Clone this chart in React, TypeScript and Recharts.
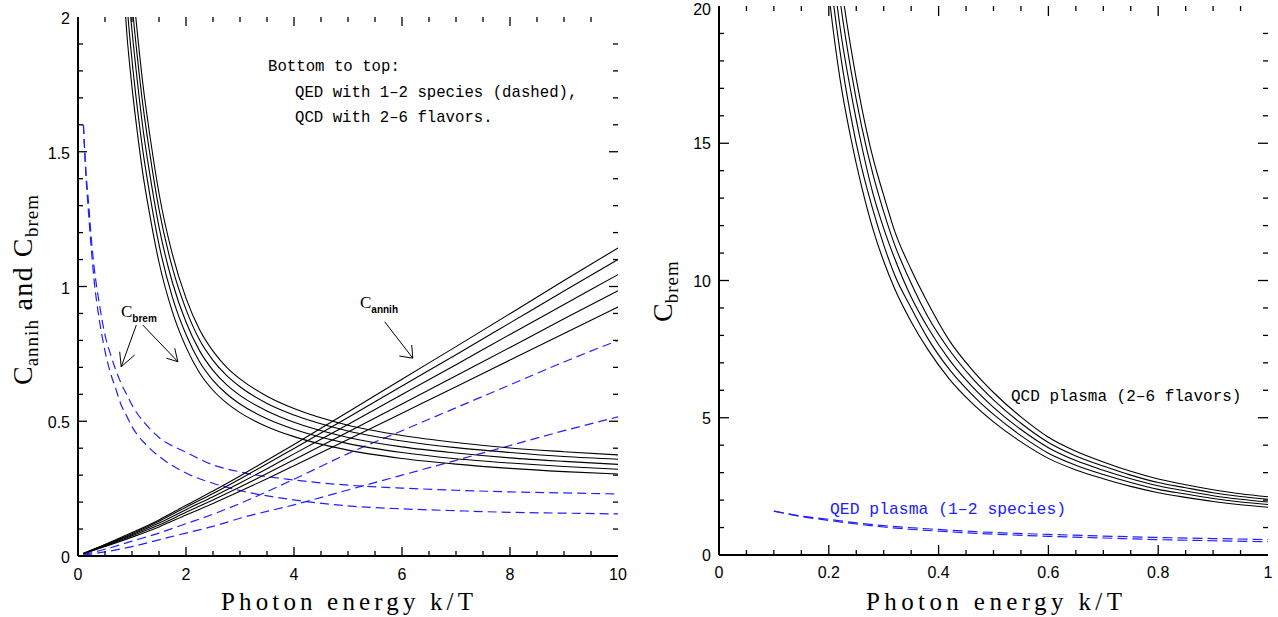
import React from "react";
import { LineChart, Line, XAxis, YAxis, ReferenceLine } from "recharts";

// ---- left panel: C_annih (QCD, Nf = 2..6) ----
const annihX = [0.1, 0.5, 1, 1.5, 2, 2.5, 3, 3.5, 4, 5, 6, 7, 8, 9, 10];
const annihNf2 = [0.008, 0.035, 0.07, 0.108, 0.152, 0.195, 0.24, 0.287, 0.335, 0.432, 0.53, 0.628, 0.727, 0.826, 0.924];
const annihNf3 = [0.0085, 0.037, 0.075, 0.115, 0.162, 0.208, 0.256, 0.306, 0.357, 0.46, 0.564, 0.669, 0.774, 0.88, 0.984];
const annihNf4 = [0.009, 0.04, 0.079, 0.122, 0.172, 0.22, 0.271, 0.324, 0.379, 0.488, 0.599, 0.71, 0.822, 0.933, 1.044];
const annihNf5 = [0.0095, 0.042, 0.083, 0.129, 0.181, 0.232, 0.286, 0.342, 0.399, 0.514, 0.631, 0.747, 0.865, 0.983, 1.1];
const annihNf6 = [0.01, 0.043, 0.087, 0.134, 0.188, 0.241, 0.297, 0.355, 0.414, 0.534, 0.656, 0.777, 0.899, 1.022, 1.143];

// QED annihilation, 1 and 2 species
const qedAnnihX = [0.1, 0.5, 1, 1.5, 2, 2.5, 3, 4, 5, 6, 7, 8, 9, 10];
const qedAnnih2 = [0.005, 0.025, 0.055, 0.085, 0.12, 0.155, 0.195, 0.285, 0.38, 0.465, 0.55, 0.635, 0.72, 0.8];
const qedAnnih1 = [0.003, 0.015, 0.035, 0.06, 0.085, 0.11, 0.14, 0.19, 0.245, 0.3, 0.355, 0.41, 0.465, 0.516];

// C_brem (QCD, Nf = 2..6), left panel range
const bremX = [0.8, 0.85, 0.9, 1, 1.1, 1.2, 1.33, 1.5, 1.75, 2, 2.25, 2.5, 2.75, 3, 3.5, 4, 5, 6, 7, 8, 9, 10];
const bremNf2 = [2.27, 2.1, 1.95, 1.74, 1.57, 1.42, 1.265, 1.09, 0.905, 0.775, 0.68, 0.615, 0.568, 0.532, 0.48, 0.443, 0.393, 0.362, 0.341, 0.325, 0.313, 0.304];
const bremNf3 = [2.41, 2.23, 2.07, 1.84, 1.66, 1.505, 1.341, 1.155, 0.959, 0.822, 0.721, 0.652, 0.602, 0.564, 0.509, 0.47, 0.417, 0.384, 0.361, 0.345, 0.332, 0.322];
const bremNf4 = [2.54, 2.35, 2.18, 1.95, 1.76, 1.59, 1.417, 1.221, 1.014, 0.868, 0.762, 0.689, 0.636, 0.596, 0.538, 0.496, 0.44, 0.405, 0.382, 0.364, 0.351, 0.34];
const bremNf5 = [2.68, 2.48, 2.3, 2.05, 1.85, 1.676, 1.493, 1.286, 1.068, 0.915, 0.802, 0.726, 0.67, 0.628, 0.566, 0.523, 0.464, 0.427, 0.402, 0.384, 0.369, 0.359];
const bremNf6 = [2.8, 2.59, 2.41, 2.15, 1.94, 1.754, 1.562, 1.346, 1.118, 0.957, 0.84, 0.76, 0.701, 0.657, 0.593, 0.547, 0.485, 0.447, 0.421, 0.401, 0.387, 0.375];

// QED brem, 2 and 1 species
const qedX = [0.1, 0.15, 0.2, 0.25, 0.3, 0.4, 0.5, 0.6, 0.7, 0.8, 0.9, 1, 1.25, 1.5, 2, 2.5, 3, 4, 5, 6, 7, 8, 9, 10];
const qedBrem2 = [1.6, 1.42, 1.3, 1.17, 1.07, 0.93, 0.82, 0.75, 0.69, 0.64, 0.6, 0.56, 0.49, 0.44, 0.385, 0.338, 0.312, 0.282, 0.263, 0.252, 0.244, 0.238, 0.234, 0.23];
const qedBrem1 = [1.6, 1.4, 1.26, 1.13, 1.02, 0.87, 0.76, 0.68, 0.62, 0.56, 0.52, 0.48, 0.415, 0.37, 0.308, 0.27, 0.243, 0.208, 0.186, 0.175, 0.168, 0.162, 0.159, 0.156];

// ---- right panel: C_brem at small k/T ----
const rBremX = [0.19, 0.2, 0.22, 0.24, 0.26, 0.28, 0.3, 0.32, 0.35, 0.38, 0.42, 0.46, 0.5, 0.55, 0.6, 0.65, 0.7, 0.75, 0.8, 0.85, 0.9, 0.95, 1];
const rBremNf2 = [22.6, 20.5, 17.4, 15.2, 13.4, 11.9, 10.7, 9.7, 8.5, 7.5, 6.4, 5.55, 4.85, 4.12, 3.52, 3.1, 2.78, 2.5, 2.27, 2.1, 1.95, 1.83, 1.74];
const rBremNf3 = [23.8, 21.6, 18.4, 16.0, 14.1, 12.6, 11.3, 10.2, 9.0, 7.9, 6.75, 5.86, 5.12, 4.35, 3.71, 3.27, 2.93, 2.64, 2.39, 2.22, 2.06, 1.93, 1.84];
const rBremNf4 = [25.1, 22.8, 19.3, 16.9, 14.9, 13.2, 11.9, 10.8, 9.4, 8.3, 7.1, 6.16, 5.38, 4.57, 3.91, 3.44, 3.09, 2.78, 2.52, 2.33, 2.16, 2.03, 1.93];
const rBremNf5 = [26.3, 23.9, 20.3, 17.7, 15.6, 13.9, 12.5, 11.3, 9.9, 8.7, 7.46, 6.47, 5.65, 4.8, 4.1, 3.61, 3.24, 2.91, 2.64, 2.45, 2.27, 2.13, 2.03];
const rBremNf6 = [27.6, 25.0, 21.2, 18.5, 16.3, 14.5, 13.1, 11.8, 10.4, 9.2, 7.8, 6.77, 5.92, 5.03, 4.29, 3.78, 3.39, 3.05, 2.77, 2.56, 2.38, 2.23, 2.12];

// ---- ticks ----
const leftXTicks = [0, 0.5, 1, 1.5, 2, 2.5, 3, 3.5, 4, 4.5, 5, 5.5, 6, 6.5, 7, 7.5, 8, 8.5, 9, 9.5, 10];
const leftYTicks = [0, 0.1, 0.2, 0.3, 0.4, 0.5, 0.6, 0.7, 0.8, 0.9, 1, 1.1, 1.2, 1.3, 1.4, 1.5, 1.6, 1.7, 1.8, 1.9, 2];
const rightXTicks = [0, 0.05, 0.1, 0.15, 0.2, 0.25, 0.3, 0.35, 0.4, 0.45, 0.5, 0.55, 0.6, 0.65, 0.7, 0.75, 0.8, 0.85, 0.9, 0.95, 1];
const rightYTicks = [0, 1, 2, 3, 4, 5, 6, 7, 8, 9, 10, 11, 12, 13, 14, 15, 16, 17, 18, 19, 20];

// annotation arrows (data coords): [from, to]
const arrowSegs = [
  [[1.08, 0.857], [0.8, 0.702]],
  [[0.772, 0.758], [0.8, 0.702]],
  [[1.05, 0.746], [0.8, 0.702]],
  [[1.2, 0.857], [1.85, 0.721]],
  [[1.635, 0.734], [1.85, 0.721]],
  [[1.79, 0.771], [1.85, 0.721]],
  [[5.68, 0.869], [6.2, 0.734]],
  [[5.95, 0.742], [6.2, 0.734]],
  [[6.18, 0.783], [6.2, 0.734]],
];

const BLUE = "#2020ff";
const zip = (xs: number[], ys: number[]) => xs.map((x, i) => ({ x, y: ys[i] }));
const isMajor = (v: number, step: number) => Math.abs(v / step - Math.round(v / step)) < 1e-6;

// chart boxes (page px) — the plot areas that the margins below produce
const LEFT_BOX = { left: 0, width: 640, m: { top: 17, right: 22, bottom: 0, left: 0 }, yW: 78, xH: 61 };
const RIGHT_BOX = { left: 640, width: 638, m: { top: 6, right: 10, bottom: 0, left: 0 }, yW: 79, xH: 62 };
const H = 617;

// tick labels only
function tickLabel(side: "bottom" | "left", step: number, dy: number) {
  return (props: any) => {
    const x = Number(props.x);
    const y = Number(props.y);
    const v: number = props.payload.value;
    if (!isMajor(v, step)) return <g />;
    return side === "bottom" ? (
      <text x={x} y={y + dy} textAnchor="middle" fontSize={16} fontFamily="Liberation Sans" fill="#000">
        {String(v)}
      </text>
    ) : (
      <text x={x - 8} y={Math.max(y + dy, 15)} textAnchor="end" fontSize={16} fontFamily="Liberation Sans" fill="#000">
        {String(v)}
      </text>
    );
  };
}

// inward ticks on all four sides of a frame (drawn on the overlay)
function FrameTicks({ box, xTicks, xStep, yTicks, yStep, xd, yd, major, minor }: any) {
  const x0 = box.left + box.m.left + box.yW;
  const x1 = box.left + box.width - box.m.right;
  const y0 = box.m.top;
  const y1 = H - box.m.bottom - box.xH;
  const px = (v: number) => x0 + ((v - xd[0]) / (xd[1] - xd[0])) * (x1 - x0);
  const py = (v: number) => y1 - ((v - yd[0]) / (yd[1] - yd[0])) * (y1 - y0);
  const segs: number[][] = [];
  xTicks.forEach((v: number) => {
    if (v <= xd[0] || v >= xd[1]) return;
    const l = isMajor(v, xStep) ? major : minor;
    const x = px(v);
    segs.push([x, y1, x, y1 - l], [x, y0, x, y0 + l]);
  });
  yTicks.forEach((v: number) => {
    if (v <= yd[0] || v >= yd[1]) return;
    const l = isMajor(v, yStep) ? major : minor;
    const y = py(v);
    segs.push([x0, y, x0 + l, y], [x1, y, x1 - l, y]);
  });
  return (
    <g>
      {segs.map((s, i) => (
        <line key={i} x1={s[0]} y1={s[1]} x2={s[2]} y2={s[3]} stroke="#000" strokeWidth={1.3} />
      ))}
    </g>
  );
}

const axisLine = { stroke: "#000", strokeWidth: 2 };

function curve(key: string, data: { x: number; y: number }[], blue = false, dash = "9 5") {
  return (
    <Line
      key={key}
      data={data}
      dataKey="y"
      type="monotone"
      stroke={blue ? BLUE : "#000"}
      strokeWidth={blue ? 1.2 : 1.1}
      strokeDasharray={blue ? dash : undefined}
      dot={false}
      activeDot={false}
      isAnimationActive={false}
    />
  );
}

function LeftPanel() {
  const b = LEFT_BOX;
  return (
    <LineChart width={b.width} height={H} margin={b.m}>
      <XAxis dataKey="x" type="number" domain={[0, 10]} ticks={leftXTicks} interval={0} height={b.xH}
        tickSize={0} tickMargin={0} axisLine={axisLine} tickLine={false} tick={tickLabel("bottom", 2, 24)} />
      <XAxis xAxisId="top" orientation="top" dataKey="x" type="number" domain={[0, 10]} height={0}
        axisLine={axisLine} tickLine={false} tick={false} />
      <YAxis type="number" domain={[0, 2]} allowDataOverflow ticks={leftYTicks} interval={0} width={b.yW}
        tickSize={0} tickMargin={0} axisLine={axisLine} tickLine={false} tick={tickLabel("left", 0.5, 7)} />
      <YAxis yAxisId="right" orientation="right" type="number" domain={[0, 2]} width={0}
        axisLine={axisLine} tickLine={false} tick={false} />

      {curve("qa1", zip(qedAnnihX, qedAnnih1), true)}
      {curve("qa2", zip(qedAnnihX, qedAnnih2), true)}
      {curve("qb1", zip(qedX, qedBrem1), true)}
      {curve("qb2", zip(qedX, qedBrem2), true)}
      {curve("a2", zip(annihX, annihNf2))}
      {curve("a3", zip(annihX, annihNf3))}
      {curve("a4", zip(annihX, annihNf4))}
      {curve("a5", zip(annihX, annihNf5))}
      {curve("a6", zip(annihX, annihNf6))}
      {curve("b2", zip(bremX, bremNf2))}
      {curve("b3", zip(bremX, bremNf3))}
      {curve("b4", zip(bremX, bremNf4))}
      {curve("b5", zip(bremX, bremNf5))}
      {curve("b6", zip(bremX, bremNf6))}

      {arrowSegs.map((s, i) => (
        <ReferenceLine key={`arr${i}`} segment={[{ x: s[0][0], y: s[0][1] }, { x: s[1][0], y: s[1][1] }]}
          stroke="#000" strokeWidth={1} />
      ))}
    </LineChart>
  );
}

function RightPanel() {
  const b = RIGHT_BOX;
  const cut = qedX.filter((x) => x <= 1).length;
  return (
    <LineChart width={b.width} height={H} margin={b.m}>
      <XAxis dataKey="x" type="number" domain={[0, 1]} ticks={rightXTicks} interval={0} height={b.xH}
        tickSize={0} tickMargin={0} axisLine={axisLine} tickLine={false} tick={tickLabel("bottom", 0.2, 23)} />
      <XAxis xAxisId="top" orientation="top" dataKey="x" type="number" domain={[0, 1]} height={0}
        axisLine={axisLine} tickLine={false} tick={false} />
      <YAxis type="number" domain={[0, 20]} allowDataOverflow ticks={rightYTicks} interval={0} width={b.yW}
        tickSize={0} tickMargin={0} axisLine={axisLine} tickLine={false} tick={tickLabel("left", 5, 6)} />
      <YAxis yAxisId="right" orientation="right" type="number" domain={[0, 20]} width={0}
        axisLine={axisLine} tickLine={false} tick={false} />

      {curve("rq1", zip(qedX.slice(0, cut), qedBrem1.slice(0, cut)), true, "10 5")}
      {curve("rq2", zip(qedX.slice(0, cut), qedBrem2.slice(0, cut)), true, "10 5")}
      {curve("r2", zip(rBremX, rBremNf2))}
      {curve("r3", zip(rBremX, rBremNf3))}
      {curve("r4", zip(rBremX, rBremNf4))}
      {curve("r5", zip(rBremX, rBremNf5))}
      {curve("r6", zip(rBremX, rBremNf6))}
    </LineChart>
  );
}

const serif = "Liberation Serif";
const mono = "Liberation Mono";

function Overlay() {
  return (
    <svg width={1278} height={H} style={{ position: "absolute", left: 0, top: 0, zIndex: 10, pointerEvents: "none" }}>
      <FrameTicks box={LEFT_BOX} xTicks={leftXTicks} xStep={2} yTicks={leftYTicks} yStep={0.5}
        xd={[0, 10]} yd={[0, 2]} major={9} minor={5} />
      <FrameTicks box={RIGHT_BOX} xTicks={rightXTicks} xStep={0.2} yTicks={rightYTicks} yStep={5}
        xd={[0, 1]} yd={[0, 20]} major={10} minor={5} />

      {/* axis titles */}
      <text x={347} y={610} textAnchor="middle" fontFamily={serif} fontSize={25} textLength={252} lengthAdjust="spacing">
        Photon energy k/T
      </text>
      <text x={994} y={610} textAnchor="middle" fontFamily={serif} fontSize={25} textLength={256} lengthAdjust="spacing">
        Photon energy k/T
      </text>
      <text transform="translate(32,385) rotate(-90)" fontFamily={serif} fontSize={28}>
        C<tspan fontSize={19} dy={6} letterSpacing={1}>annih</tspan>
        <tspan dy={-6} letterSpacing={1.5}> and C</tspan>
        <tspan fontSize={19} dy={6} letterSpacing={1}>brem</tspan>
      </text>
      <text transform="translate(672,322) rotate(-90)" fontFamily={serif} fontSize={28}>
        C<tspan fontSize={19} dy={6} letterSpacing={1}>brem</tspan>
      </text>

      {/* left annotations */}
      <g fontFamily={mono} fontSize={15.7} fill="#000">
        <text x={268} y={71}>Bottom to top:</text>
        <text x={295} y={97}>QED with 1–2 species (dashed),</text>
        <text x={295} y={122}>QCD with 2–6 flavors.</text>
      </g>
      <text x={121} y={317} fontFamily={serif} fontSize={17}>
        C<tspan fontFamily="Liberation Sans" fontWeight="bold" fontSize={10} dy={5}>brem</tspan>
      </text>
      <text x={360} y={308} fontFamily={serif} fontSize={17}>
        C<tspan fontFamily="Liberation Sans" fontWeight="bold" fontSize={10} dy={5}>annih</tspan>
      </text>

      {/* right annotations */}
      <text x={1011} y={401} fontFamily={mono} fontSize={16}>QCD plasma (2–6 flavors)</text>
      <text x={830} y={514} fontFamily={mono} fontSize={16.4} fill={BLUE}>QED plasma (1–2 species)</text>
    </svg>
  );
}

export default function App() {
  return (
    <div style={{ position: "absolute", left: 0, top: 0, width: 1278, height: H, background: "#fff" }}>
      <div style={{ position: "absolute", left: LEFT_BOX.left, top: 0 }}>
        <LeftPanel />
      </div>
      <div style={{ position: "absolute", left: RIGHT_BOX.left, top: 0 }}>
        <RightPanel />
      </div>
      <Overlay />
    </div>
  );
}
